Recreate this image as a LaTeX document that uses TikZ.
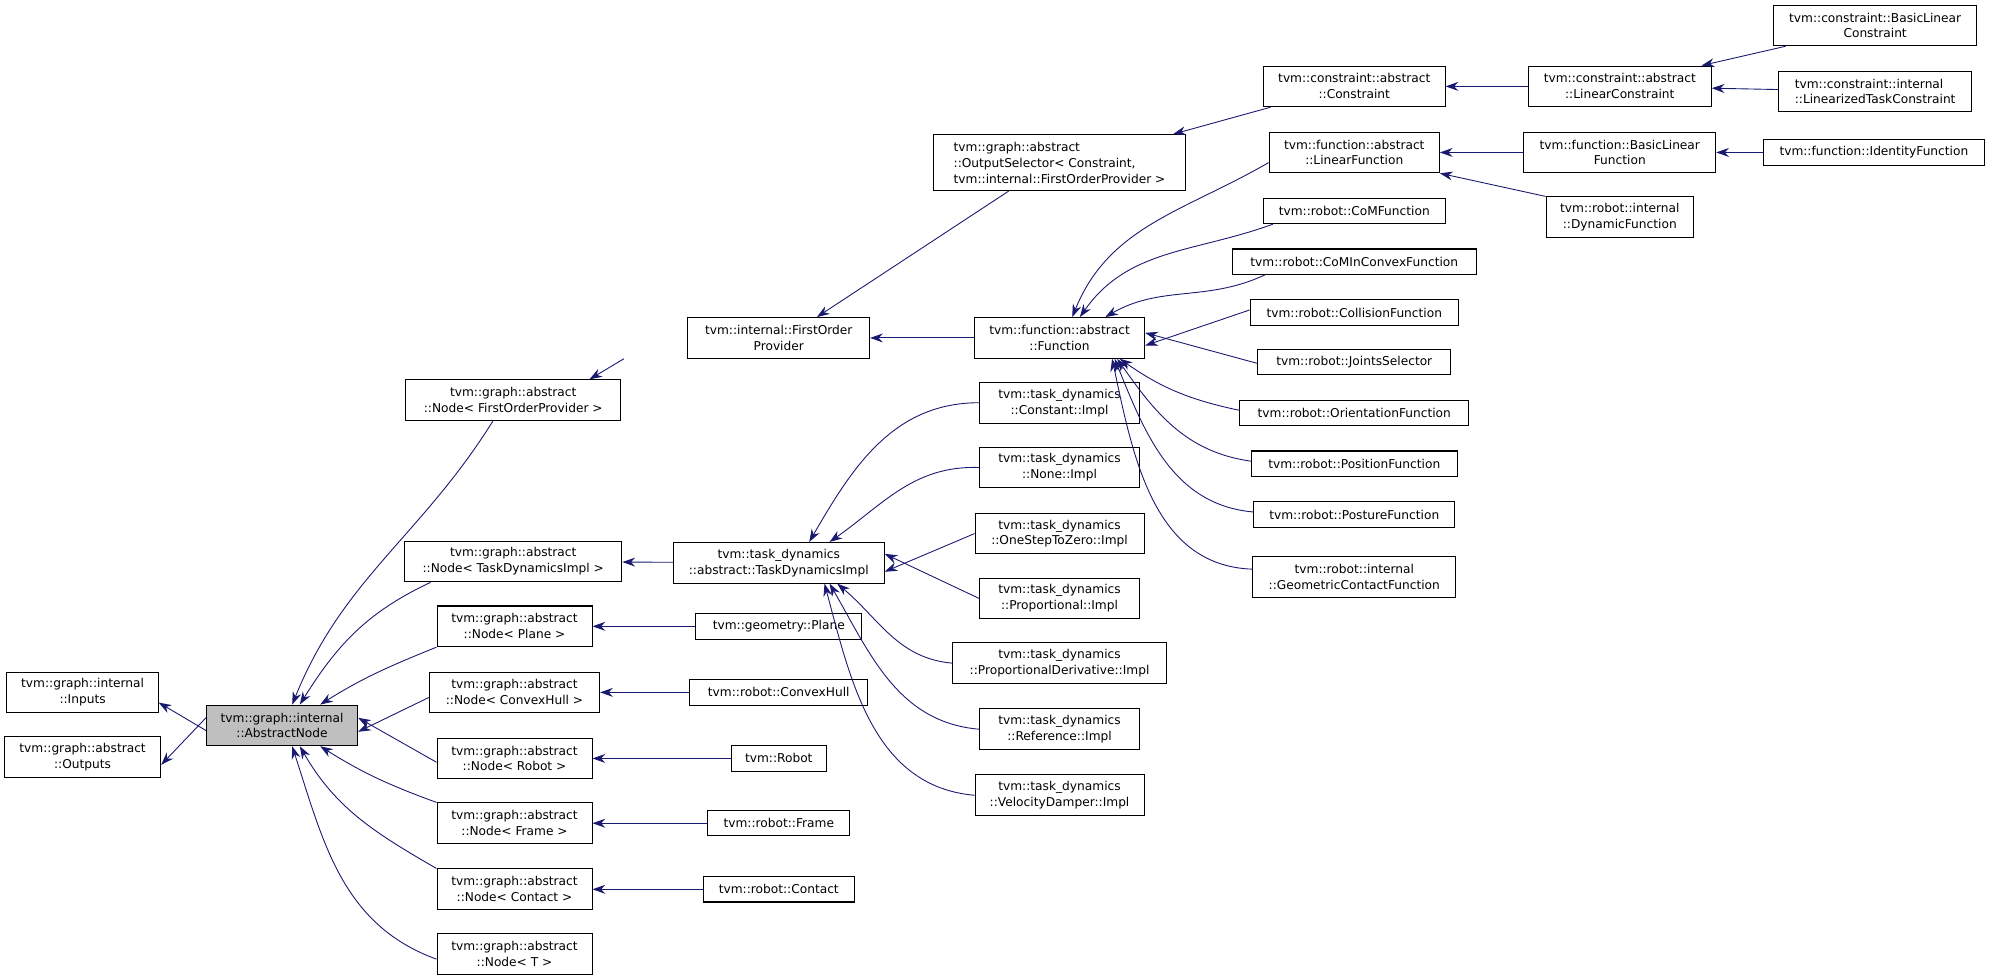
\documentclass[tikz,border=0pt]{standalone}
\usepackage{fontspec}
\setmainfont{DejaVu Sans}
\usetikzlibrary{arrows.meta}
\definecolor{edgec}{RGB}{25,25,112}
\begin{document}
\begin{tikzpicture}[x=1pt,y=-1pt,
  box/.style={draw, line width=0.8pt, inner sep=0pt, align=center, minimum height=32pt, font=\fontsize{9.6}{12.5}\selectfont},
  one/.style={box, minimum height=20pt},
  e/.style={edgec, line width=0.7pt, {Stealth[length=10pt,width=7pt]}-}]
\useasboundingbox (0,0) rectangle (1568,771);
% left
\node[box, minimum width=119] (inputs) at (65,545) {tvm::graph::internal\\::Inputs};
\node[box, minimum width=123] (outputs) at (65,596) {tvm::graph::abstract\\::Outputs};
\node[box, minimum width=119, fill=black!25] (an) at (222,571) {tvm::graph::internal\\::AbstractNode};
% column 2
\node[box, minimum width=169] (nfop) at (404,315) {tvm::graph::abstract\\::Node< FirstOrderProvider >};
\node[box, minimum width=171] (ntdi) at (404,442) {tvm::graph::abstract\\::Node< TaskDynamicsImpl >};
\node[box, minimum width=122] (nplane) at (405,493) {tvm::graph::abstract\\::Node< Plane >};
\node[box, minimum width=134] (nhull) at (405,545) {tvm::graph::abstract\\::Node< ConvexHull >};
\node[box, minimum width=122] (nrobot) at (405,597) {tvm::graph::abstract\\::Node< Robot >};
\node[box, minimum width=122] (nframe) at (405,648) {tvm::graph::abstract\\::Node< Frame >};
\node[box, minimum width=122] (ncontact) at (405,700) {tvm::graph::abstract\\::Node< Contact >};
\node[box, minimum width=122] (nt) at (405,751) {tvm::graph::abstract\\::Node< T >};
% column 3
\node[box, minimum width=166] (tdi) at (613,443) {tvm::task\_dynamics\\::abstract::TaskDynamicsImpl};
\node[one, minimum width=131] (plane) at (613,493) {tvm::geometry::Plane};
\node[one, minimum width=140] (hull) at (613,545) {tvm::robot::ConvexHull};
\node[one, minimum width=75] (robot) at (613,597) {tvm::Robot};
\node[one, minimum width=112] (frame) at (613,648) {tvm::robot::Frame};
\node[one, minimum width=119] (contact) at (613,700) {tvm::robot::Contact};
\node[box, minimum width=143] (fop) at (613,266) {tvm::internal::FirstOrder\\Provider};
% column 4
\node[box, minimum width=198, minimum height=44pt, align=left] (os) at (834,128) {tvm::graph::abstract\\::OutputSelector< Constraint,\\ tvm::internal::FirstOrderProvider >};
\node[box, minimum width=134] (fn) at (834,266) {tvm::function::abstract\\::Function};
\node[box, minimum width=126] (cst) at (834,317) {tvm::task\_dynamics\\::Constant::Impl};
\node[box, minimum width=126] (none) at (834,368) {tvm::task\_dynamics\\::None::Impl};
\node[box, minimum width=133] (ostz) at (834,420) {tvm::task\_dynamics\\::OneStepToZero::Impl};
\node[box, minimum width=126] (prop) at (834,471) {tvm::task\_dynamics\\::Proportional::Impl};
\node[box, minimum width=168] (pd) at (834,522) {tvm::task\_dynamics\\::ProportionalDerivative::Impl};
\node[box, minimum width=126] (ref) at (834,574) {tvm::task\_dynamics\\::Reference::Impl};
\node[box, minimum width=133] (vd) at (834,626) {tvm::task\_dynamics\\::VelocityDamper::Impl};
% column 5
\node[box, minimum width=143] (cons) at (1066,68) {tvm::constraint::abstract\\::Constraint};
\node[box, minimum width=134] (lf) at (1066,120) {tvm::function::abstract\\::LinearFunction};
\node[one, minimum width=143] (com) at (1066,166) {tvm::robot::CoMFunction};
\node[one, minimum width=192] (comic) at (1066,206) {tvm::robot::CoMInConvexFunction};
\node[one, minimum width=164] (coll) at (1066,246) {tvm::robot::CollisionFunction};
\node[one, minimum width=152] (js) at (1066,285) {tvm::robot::JointsSelector};
\node[one, minimum width=180] (orient) at (1066,325) {tvm::robot::OrientationFunction};
\node[one, minimum width=162] (pos) at (1066,365) {tvm::robot::PositionFunction};
\node[one, minimum width=158] (post) at (1066,405) {tvm::robot::PostureFunction};
\node[box, minimum width=160] (geo) at (1066,454) {tvm::robot::internal\\::GeometricContactFunction};
% column 6
\node[box, minimum width=144] (lc) at (1275,68) {tvm::constraint::abstract\\::LinearConstraint};
\node[box, minimum width=151] (blf) at (1275,120) {tvm::function::BasicLinear\\Function};
\node[box, minimum width=116] (dyn) at (1275,171) {tvm::robot::internal\\::DynamicFunction};
% column 7
\node[box, minimum width=160] (blc) at (1476,20) {tvm::constraint::BasicLinear\\Constraint};
\node[box, minimum width=152, align=left] (ltc) at (1476,72) {tvm::constraint::internal\\::LinearizedTaskConstraint};
\node[one, minimum width=174] (idf) at (1475,120) {tvm::function::IdentityFunction};
% edges
\draw[e] (inputs.east) ++(0,8) coordinate (i1) (i1) -- ([yshift=-4]an.west);
\draw[e] ([yshift=-6]outputs.east) -- ([yshift=6]an.west);
\draw[e] ([xshift=8]an.north) to[out=68,in=-122] ([xshift=-16]nfop.south);
\draw[e] ([xshift=14]an.north) to[out=58,in=-155] ([xshift=-65]ntdi.south);
\draw[e] ([xshift=30]an.north) to[out=32,in=-158] (nplane.south west);
\draw[e] ([yshift=-5]an.east) -- ([yshift=-4]nhull.west);
\draw[e] ([yshift=6]an.east) -- ([yshift=-3]nrobot.west);
\draw[e] ([xshift=30]an.south) to[out=-32,in=160] (nframe.north west);
\draw[e] ([xshift=14]an.south) to[out=-60,in=150] (ncontact.north west);
\draw[e] ([xshift=8]an.south) to[out=-72,in=160] ([yshift=-4]nt.west);
\draw[e] (ntdi) -- (tdi);
\draw[e] (nplane) -- (plane);
\draw[e] (nhull) -- (hull);
\draw[e] (nrobot) -- (robot);
\draw[e] (nframe) -- (frame);
\draw[e] (ncontact) -- (contact);
\draw[e] ([xshift=60]nfop.north) -- ([xshift=-50]fop.south west);
\draw[e] ([xshift=30]fop.north) -- ([xshift=-40]os.south);
\draw[e] ([xshift=-10]os.north east) -- ([xshift=6]cons.south west);
\draw[e] (cons) -- (lc);
\draw[e] ([xshift=-8]lc.north east) -- ([xshift=10]blc.south west);
\draw[e] (lc) -- (ltc);
\draw[e] (fop) -- (fn);
\draw[e] (lf) -- (blf);
\draw[e] (blf) -- (idf);
\draw[e] (lf.south east) -- ([xshift=0]dyn.north west);
\draw[e] ([xshift=10]fn.north) to[out=68,in=-150] ([yshift=-8]lf.west);
\draw[e] ([xshift=16]fn.north) to[out=55,in=-160] ([xshift=8]com.south west);
\draw[e] ([xshift=36]fn.north) to[out=30,in=-155] ([xshift=26]comic.south west);
\draw[e] ([yshift=-6]fn.east) -- ([yshift=2]coll.west);
\draw[e] ([yshift=4]fn.east) -- ([yshift=-1]js.west);
\draw[e] ([xshift=-20]fn.south east) to[out=-35,in=168] ([yshift=2]orient.west);
\draw[e] ([xshift=-22]fn.south east) to[out=-55,in=172] ([yshift=2]pos.west);
\draw[e] ([xshift=-24]fn.south east) to[out=-68,in=175] ([yshift=2]post.west);
\draw[e] ([xshift=-26]fn.south east) to[out=-78,in=178] ([yshift=6]geo.west);
\draw[e] ([xshift=24]tdi.north) to[out=60,in=180] (cst.west);
\draw[e] ([xshift=40]tdi.north) to[out=35,in=178] (none.west);
\draw[e] ([yshift=-7]tdi.east) -- (ostz.west);
\draw[e] ([yshift=7]tdi.east) -- (prop.west);
\draw[e] ([xshift=46]tdi.south) to[out=-40,in=175] (pd.west);
\draw[e] ([xshift=40]tdi.south) to[out=-60,in=175] (ref.west);
\draw[e] ([xshift=36]tdi.south) to[out=-75,in=175] (vd.west);
\end{tikzpicture}
\end{document}
